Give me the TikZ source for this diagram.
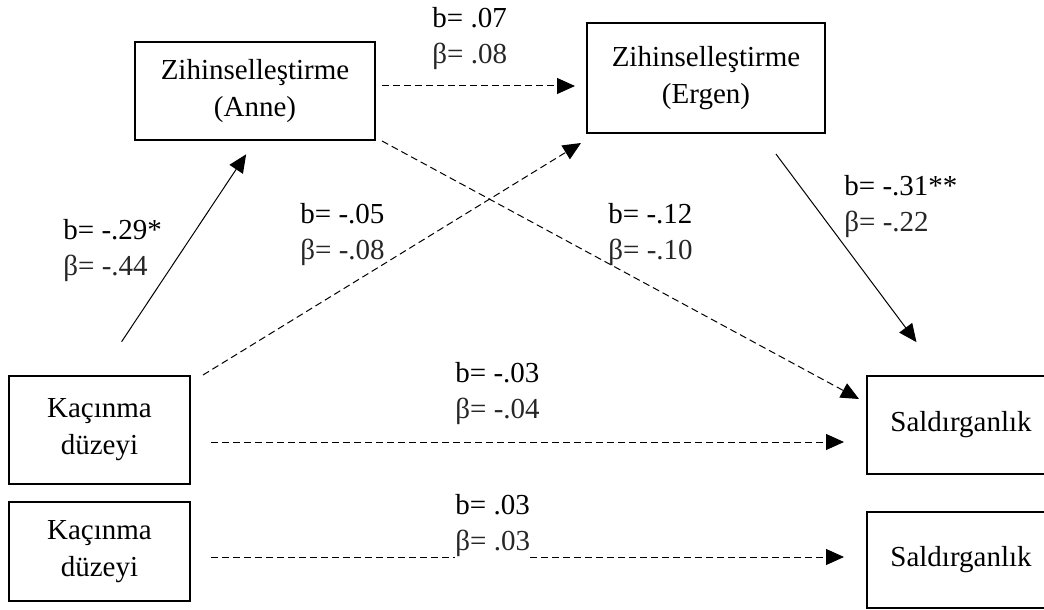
\documentclass[tikz,border=0pt]{standalone}
\usepackage{fontspec}
\setmainfont{Liberation Serif}
\usetikzlibrary{arrows.meta, positioning}
\tikzstyle{box} = [draw, line width=1pt, rectangle, align=center,
    font=\fontsize{14.5}{18.5}\selectfont]
\tikzstyle{coef} = [anchor=west, align=left, inner sep=0pt,
    font=\fontsize{14.5}{18}\selectfont]
\tikzstyle{arrow} = [->, line width=0.5pt]
\tikzstyle{dasharrow} = [arrow, dash pattern=on 3.5pt off 2pt]
\newcommand{\bcoef}[2]{b= #1\\\textcolor{black!85}{β= #2}}

\begin{document}
\begin{tikzpicture}[x=0.5pt, y=-0.5pt, >={Triangle[length=9pt,width=8pt]}]
  \path [use as bounding box, clip] (0,0) rectangle (1044,610);
  % Place the blocks
  \node [box, minimum width=120pt, minimum height=49pt] (anne) at (255,91)
    {Zihinselleştirme\\(Anne)};
  \node [box, minimum width=119pt, minimum height=55pt] (ergen) at (706,78)
    {Zihinselleştirme\\(Ergen)};
  \node [box, minimum width=90.5pt, minimum height=54pt] (kac1) at (99.5,430)
    {Kaçınma\\düzeyi};
  \node [box, minimum width=90.5pt, minimum height=49.5pt] (kac2) at (99.5,551.5)
    {Kaçınma\\düzeyi};
  \node [box, minimum width=94pt, minimum height=49pt] (sald1) at (961,425)
    {Saldırganlık};
  \node [box, minimum width=94pt, minimum height=48pt] (sald2) at (961,560)
    {Saldırganlık};

  % Connect the nodes
  \draw [dasharrow, shorten <=3pt, shorten >=5.5pt] ([yshift=2.5pt]anne.east)
    -- ([yshift=2.5pt]anne.east -| ergen.west);
  \draw [arrow, shorten <=20pt, shorten >=8pt] (kac1.north) -- (anne.south);
  \draw [dasharrow] ([xshift=6pt]kac1.north east)
    -- ([xshift=-2.5pt, yshift=-4.5pt]ergen.south west);
  \draw [dasharrow] ([xshift=3pt]anne.south east)
    -- ([xshift=-3.5pt, yshift=-12pt]sald1.north west);
  \draw [arrow, shorten <=12.5pt, shorten >=20.5pt] ([xshift=27.5pt]ergen.south)
    -- ([xshift=-10pt]sald1.north);
  \draw [dasharrow, shorten <=10pt, shorten >=11pt] ([yshift=-6pt]kac1.east)
    -- ([yshift=-6pt]kac1.east -| sald1.west);
  \draw [dasharrow, shorten <=10pt, shorten >=11pt] ([yshift=-2.75pt]kac2.east)
    -- ([yshift=-2.75pt]kac2.east -| sald2.west);

  % Coefficients
  \node [coef] (c-ae) at (432,39) {\bcoef{.07}{.08}};
  \node [coef] (c-ka) at (63,250.5) {\bcoef{-.29*}{-.44}};
  \node [coef] (c-ke) at (300,234.5) {\bcoef{-.05}{-.08}};
  \node [coef] (c-as) at (608,234.5) {\bcoef{-.12}{-.10}};
  \node [coef] (c-es) at (844,206.5) {\bcoef{-.31**}{-.22}};
  \node [coef] (c-ks) at (455,393.5) {\bcoef{-.03}{-.04}};
  \node [coef, fill=white, inner ysep=1pt] (c-ks2) at (455,526) {\bcoef{.03}{.03}};
\end{tikzpicture}
\end{document}
